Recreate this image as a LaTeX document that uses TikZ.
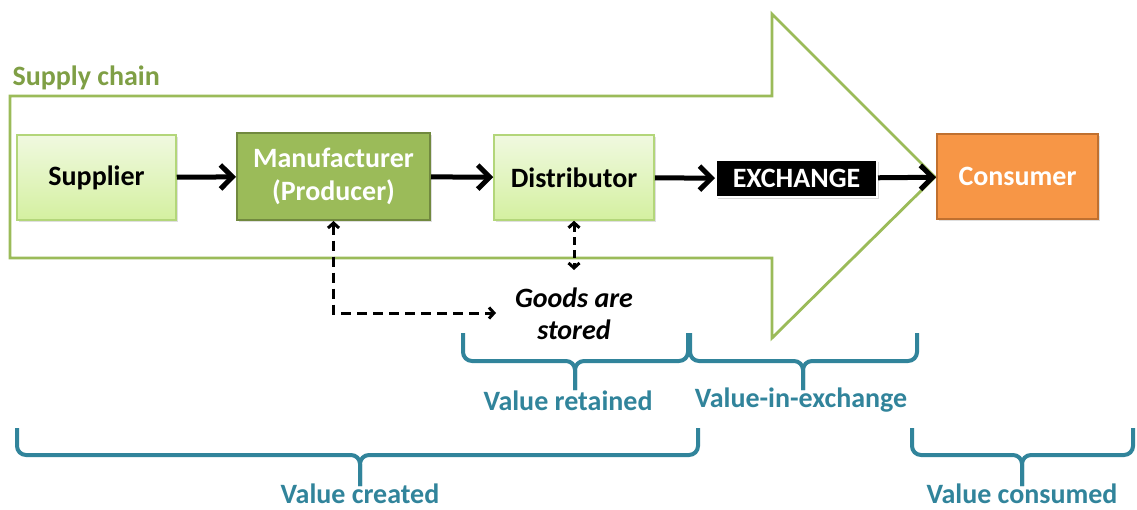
\documentclass[tikz,border=0pt]{standalone}
\usepackage{fontspec}
\setmainfont{Carlito}
\usetikzlibrary{arrows.meta,shadows,calc}
\definecolor{scgreen}{HTML}{9BBB59}
\definecolor{sctext}{HTML}{7F9F45}
\definecolor{mfrborder}{HTML}{71893F}
\definecolor{lightgtop}{HTML}{F0F9E0}
\definecolor{lightgbot}{HTML}{D4F0A0}
\definecolor{lightgborder}{HTML}{B3D67A}
\definecolor{consfill}{HTML}{F79646}
\definecolor{consborder}{HTML}{C0702F}
\definecolor{braceteal}{HTML}{31849B}
\tikzset{
  boxtext/.style={font=\bfseries\fontsize{28}{33}\selectfont, align=center},
  lightbox/.style={boxtext, draw=lightgborder, line width=1.5pt, top color=lightgtop, bottom color=lightgbot,
    drop shadow={opacity=0.25, shadow xshift=2pt, shadow yshift=-2pt}},
  mfrbox/.style={boxtext, text=white, draw=mfrborder, line width=2pt, fill=scgreen,
    drop shadow={opacity=0.25, shadow xshift=2pt, shadow yshift=-2pt}},
  consbox/.style={boxtext, text=white, draw=consborder, line width=2pt, fill=consfill,
    drop shadow={opacity=0.25, shadow xshift=2pt, shadow yshift=-2pt}},
  exchbox/.style={boxtext, text=white, fill=black, draw=white, line width=2pt,
    drop shadow={opacity=0.3, shadow xshift=2pt, shadow yshift=-2pt}},
  flow/.style={line width=5pt, -{Straight Barb[length=12pt,width=24pt]}},
  dasharrow/.style={line width=3pt, dash pattern=on 10pt off 6pt,
    {Straight Barb[length=5pt,width=11pt]}-{Straight Barb[length=5pt,width=11pt]}},
  outline/.style={draw=scgreen, line width=2.8pt},
  bracepath/.style={draw=braceteal, line width=4pt, rounded corners=9pt},
  bracelabel/.style={text=braceteal, inner sep=0pt, font=\bfseries\fontsize{28}{33}\selectfont},
}
\newcommand{\mybrace}[6]{%
  \path[bracepath] (#1,#4) -- (#1,#5) -- (#3,#5) -- (#3,#6);
  \path[bracepath] (#2,#4) -- (#2,#5) -- (#3,#5) -- (#3,#6);
}
\begin{document}
\begin{tikzpicture}[x=1pt,y=-1pt]
\useasboundingbox (0,0) rectangle (1137,509);
\fill[white] (0,0) rectangle (1137,509);

% big supply-chain arrow
\draw[outline, line join=miter] (10,96) -- (772,96) -- (772,14) -- (935,177) -- (772,338) -- (772,258) -- (10,258) -- cycle;
\node[anchor=west, text=sctext, font=\bfseries\fontsize{28}{33}\selectfont] (sclabel) at (9,78) {Supply chain};

% boxes
\node[lightbox, minimum width=159pt, minimum height=85pt] (sup) at (96.5,177.5) {Supplier};
\node[mfrbox, minimum width=193pt, minimum height=87pt] (mfr) at (333.5,176.5) {Manufacturer\\(Producer)};
\node[lightbox, minimum width=160pt, minimum height=85pt] (dist) at (574,177.5) {Distributor};
\node[exchbox, minimum width=161pt, minimum height=37pt, inner sep=1pt] (exch) at (796.5,178.5) {EXCHANGE};
\node[consbox, minimum width=161pt, minimum height=85pt] (cons) at (1017.5,176.5) {Consumer};

\draw[flow] (sup) -- (mfr);
\draw[flow] (mfr) -- (dist);
\draw[flow] (dist) -- (exch);
\draw[flow] (exch) -- (cons);

% goods stored
\node[font=\bfseries\itshape\fontsize{28}{32}\selectfont, align=center] (goods) at (574,314) {Goods are\\stored};
\coordinate (gin) at (496,313);
\coordinate (gtop) at (574,270);
\draw[dasharrow] (mfr.south) |- (gin);
\draw[dasharrow, dash pattern=on 8pt off 5pt] (dist.south) -- (gtop);

% braces
\mybrace{463}{688}{575}{333}{361}{390}
\mybrace{690}{917}{803}{333}{361}{390}
\mybrace{17}{698}{360}{428}{455}{486}
\mybrace{912}{1133}{1022}{428}{455}{486}
\node[bracelabel] (lret) at (568,401) {Value retained};
\node[bracelabel] (lexc) at (801,400) {Value-in-exchange};
\node[bracelabel] (lcre) at (360,494) {Value created};
\node[bracelabel] (lcon) at (1022,494) {Value consumed};
\end{tikzpicture}
\end{document}
